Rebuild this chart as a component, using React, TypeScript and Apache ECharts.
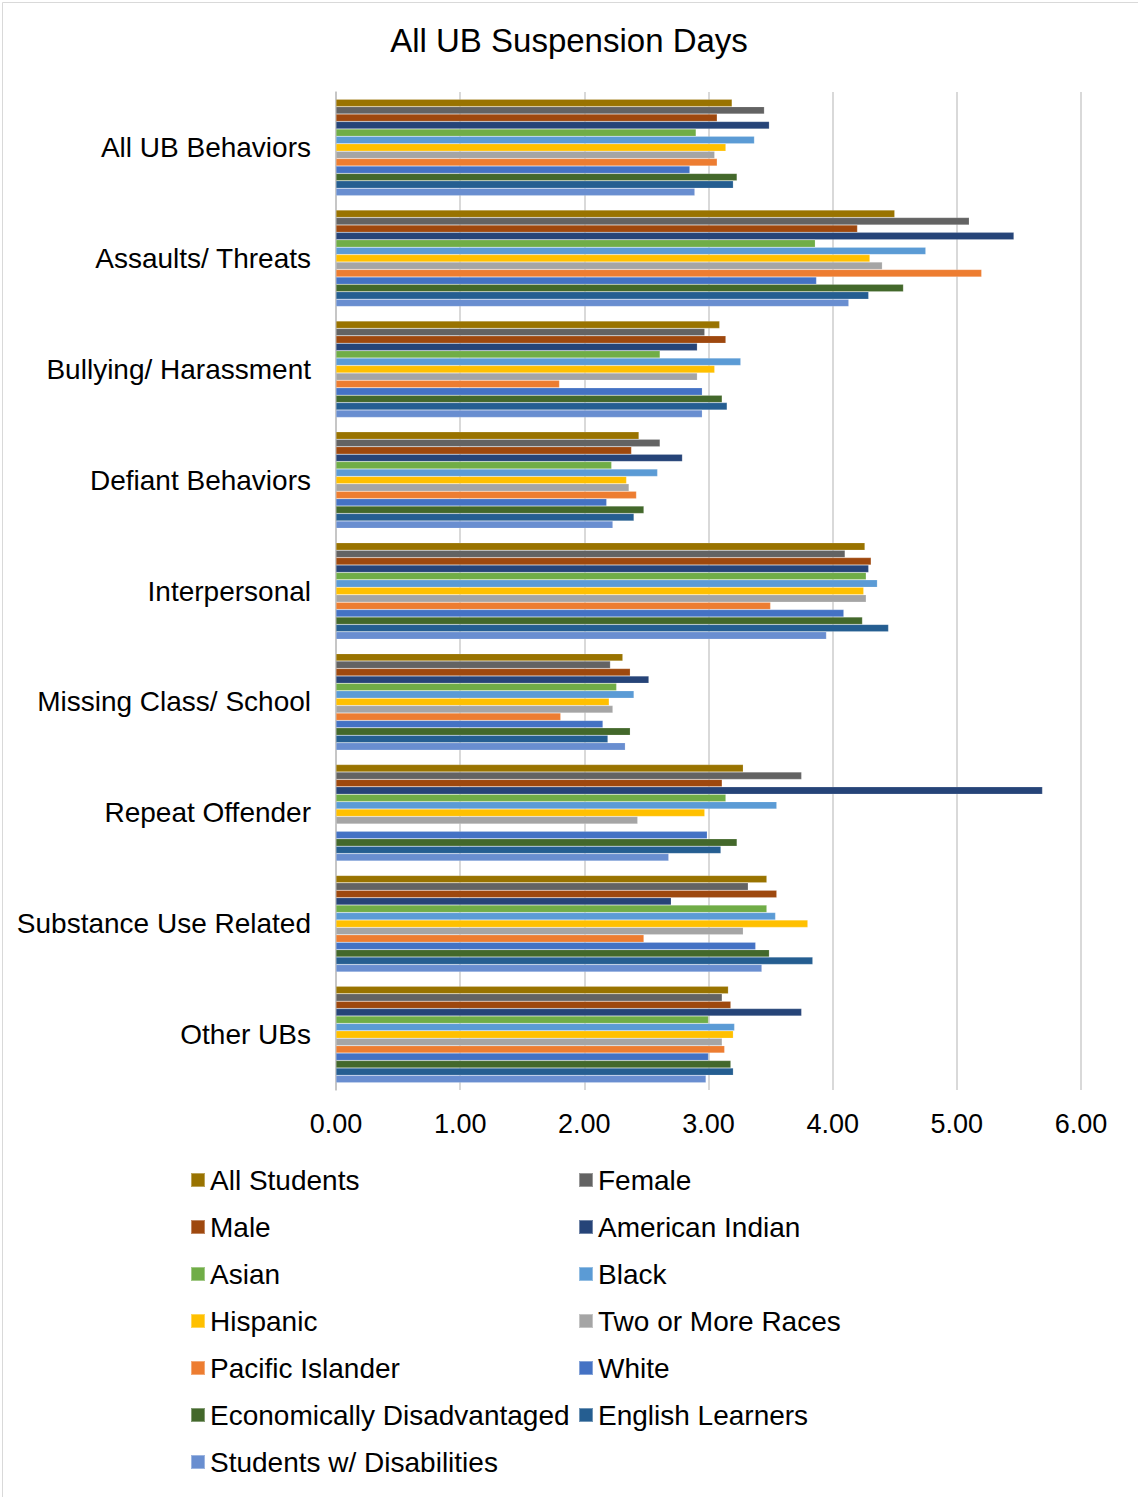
import React, { useEffect, useRef } from "react";
import * as echarts from "echarts";

const categories = [
  "All UB Behaviors",
  "Assaults/ Threats",
  "Bullying/ Harassment",
  "Defiant Behaviors",
  "Interpersonal",
  "Missing Class/ School",
  "Repeat Offender",
  "Substance Use Related",
  "Other UBs",
];

const xTicks = ["0.00", "1.00", "2.00", "3.00", "4.00", "5.00", "6.00"];

const allStudents = [3.19, 4.5, 3.09, 2.44, 4.26, 2.31, 3.28, 3.47, 3.16];
const female = [3.45, 5.1, 2.97, 2.61, 4.1, 2.21, 3.75, 3.32, 3.11];
const male = [3.07, 4.2, 3.14, 2.38, 4.31, 2.37, 3.11, 3.55, 3.18];
const americanIndian = [3.49, 5.46, 2.91, 2.79, 4.29, 2.52, 5.69, 2.7, 3.75];
const asian = [2.9, 3.86, 2.61, 2.22, 4.27, 2.26, 3.14, 3.47, 3.0];
const black = [3.37, 4.75, 3.26, 2.59, 4.36, 2.4, 3.55, 3.54, 3.21];
const hispanic = [3.14, 4.3, 3.05, 2.34, 4.25, 2.2, 2.97, 3.8, 3.2];
const twoOrMore = [3.05, 4.4, 2.91, 2.36, 4.27, 2.23, 2.43, 3.28, 3.11];
const pacificIslander = [3.07, 5.2, 1.8, 2.42, 3.5, 1.81, null, 2.48, 3.13];
const white = [2.85, 3.87, 2.95, 2.18, 4.09, 2.15, 2.99, 3.38, 3.0];
const econDisadvantaged = [3.23, 4.57, 3.11, 2.48, 4.24, 2.37, 3.23, 3.49, 3.18];
const englishLearners = [3.2, 4.29, 3.15, 2.4, 4.45, 2.19, 3.1, 3.84, 3.2];
const disabilities = [2.89, 4.13, 2.95, 2.23, 3.95, 2.33, 2.68, 3.43, 2.98];

const seriesDefs = [
  { name: "All Students", data: allStudents, color: "#997300" },
  { name: "Female", data: female, color: "#636363" },
  { name: "Male", data: male, color: "#9E480E" },
  { name: "American Indian", data: americanIndian, color: "#264478" },
  { name: "Asian", data: asian, color: "#70AD47" },
  { name: "Black", data: black, color: "#5B9BD5" },
  { name: "Hispanic", data: hispanic, color: "#FFC000" },
  { name: "Two or More Races", data: twoOrMore, color: "#A5A5A5" },
  { name: "Pacific Islander", data: pacificIslander, color: "#ED7D31" },
  { name: "White", data: white, color: "#4472C4" },
  { name: "Economically Disadvantaged", data: econDisadvantaged, color: "#43682B" },
  { name: "English Learners", data: englishLearners, color: "#255E91" },
  { name: "Students w/ Disabilities", data: disabilities, color: "#698ED0" },
];

const leftLegend = [
  "All Students",
  "Male",
  "Asian",
  "Hispanic",
  "Pacific Islander",
  "Economically Disadvantaged",
  "Students w/ Disabilities",
];
const rightLegend = [
  "Female",
  "American Indian",
  "Black",
  "Two or More Races",
  "White",
  "English Learners",
];

const FONT = "Liberation Sans, Arial, sans-serif";

export default function App() {
  const ref = useRef<HTMLDivElement>(null);
  useEffect(() => {
    if (!ref.current) return;
    const chart = echarts.init(ref.current, null, { renderer: "svg" });
    const legendCommon = {
      orient: "vertical" as const,
      icon: "rect",
      itemWidth: 14,
      itemHeight: 14,
      itemGap: 19,
      padding: 0,
      selectedMode: false,
      textStyle: { fontSize: 28, fontFamily: FONT, color: "#000", lineHeight: 28 },
    };
    chart.setOption({
      animation: false,
      backgroundColor: "#fff",
      title: {
        text: "All UB Suspension Days",
        left: "center",
        top: 24,
        padding: 0,
        textStyle: { fontSize: 33, fontWeight: "normal", fontFamily: FONT, color: "#000" },
      },
      legend: [
        { ...legendCommon, left: 190, top: 1166, data: leftLegend },
        { ...legendCommon, left: 578, top: 1166, data: rightLegend },
      ],
      grid: { left: 336, right: 57, top: 92, bottom: 407, containLabel: false },
      xAxis: {
        type: "value",
        min: 0,
        max: 6,
        interval: 1,
        axisLine: { show: false },
        axisTick: { show: false },
        splitLine: { show: true, lineStyle: { color: "#d9d9d9", width: 2 } },
        axisLabel: {
          fontSize: 27,
          fontFamily: FONT,
          color: "#000",
          margin: 20,
          formatter: (v: number) => xTicks[Math.round(v)] ?? v.toFixed(2),
        },
      },
      yAxis: {
        type: "category",
        data: categories,
        inverse: true,
        axisLine: { show: true, lineStyle: { color: "#bfbfbf", width: 1.5 } },
        axisTick: { show: false },
        axisLabel: { fontSize: 28, fontFamily: FONT, color: "#000", margin: 25 },
      },
      graphic: [
        {
          type: "rect",
          left: 0,
          top: 0,
          shape: { x: 0.5, y: 0.5, width: 1137, height: 1496 },
          style: { fill: "none", stroke: "#d9d9d9", lineWidth: 1 },
          silent: true,
        },
      ],
      series: seriesDefs.map((s) => ({
        type: "bar",
        name: s.name,
        data: s.data,
        barGap: "0%",
        barCategoryGap: "13%",
        itemStyle: { color: s.color, borderColor: "rgba(255,255,255,0.35)", borderWidth: 0.5 },
      })),
    });
    return () => chart.dispose();
  }, []);
  return (
    <div
      ref={ref}
      style={{ position: "fixed", left: 0, top: 0, width: 1138, height: 1497 }}
    />
  );
}
